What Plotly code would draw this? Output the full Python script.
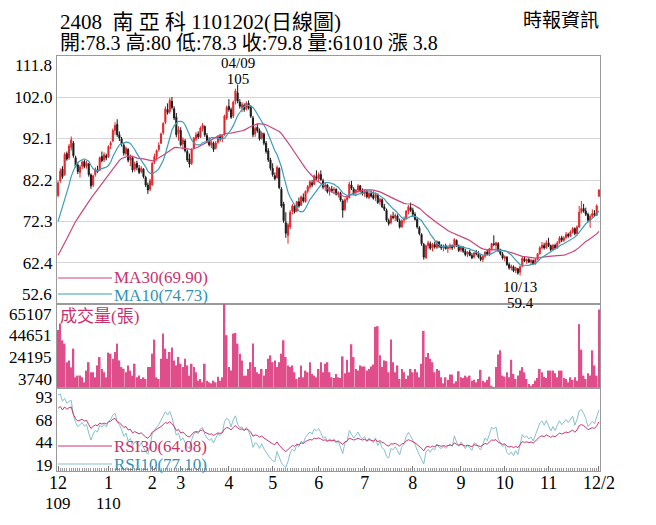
import pandas as pd
import plotly.graph_objects as go
from plotly.subplots import make_subplots

# ---- data (2408 南亞科, daily, 2020/12/01 - 2021/12/02) ----
month_pos = [0, 23, 43, 56, 78, 98, 119, 140, 162, 184, 204, 224, 247]
month_text = ["12", "1", "2", "3", "4", "5", "6", "7", "8", "9", "10", "11", "12/2"]
year_pos = [0, 23]
year_text = ["109", "110"]
price_ticks = [52.6, 62.4, 72.3, 82.2, 92.1, 102.0, 111.8]
vol_ticks = [3740, 24195, 44651, 65107]
rsi_ticks = [19, 44, 68, 93]

# closes before the first visible candle (only used to warm up MA / RSI)
pre_close = [56.8, 56.5, 56.0, 55.6, 56.3, 57.2, 58.0, 58.8, 58.3, 59.6,
             60.4, 59.8, 60.9, 61.6, 61.0, 62.2, 63.0, 63.8, 63.4, 64.8,
             66.2, 67.5, 68.8, 69.5, 70.2, 70.0, 71.5, 72.8, 74.5, 77.0]

opens = [
    78.5, 82.0, 84.8, 83.5, 88.5, 87.5, 90.0, 91.0, 87.5, 85.8, 84.0, 85.5, 86.6, 85.5, 86.0, 83.4, 81.0, 83.5, 84.6, 84.5, 87.8, 87.0, 88.0,
    87.8, 90.5, 91.5, 94.0, 95.5, 93.0, 92.0, 90.5, 88.5, 89.5, 87.0, 87.5, 84.8, 86.2, 85.0, 84.2, 84.8, 82.8, 81.0, 80.0,
    81.0, 86.5, 87.8, 89.5, 91.0, 93.5, 96.0, 99.0, 98.5, 101.0, 99.2, 97.2, 93.5,
    94.0, 90.8, 91.5, 89.0, 87.2, 86.2, 89.8, 92.0, 93.2, 92.5, 94.5, 95.0, 92.8, 91.5, 90.5, 91.0, 89.8, 91.2, 92.5, 92.0, 93.0, 97.0,
    99.8, 99.0, 97.5, 101.0, 103.0, 100.8, 99.5, 100.0, 99.2, 100.5, 99.5, 97.0, 93.2, 94.8, 94.0, 92.2, 93.2, 91.0, 89.2, 87.0,
    85.0, 83.2, 82.8, 85.0, 80.0, 76.5, 72.0, 69.0, 71.0, 74.8, 76.0, 74.8, 77.0, 76.2, 78.0, 77.0, 79.5, 80.5, 81.5, 81.2, 83.0,
    82.5, 83.5, 82.0, 80.5, 81.0, 79.5, 80.0, 79.8, 80.0, 78.8, 79.0, 77.2, 75.2, 77.5, 78.0, 81.0, 80.0, 79.2, 79.8, 80.8, 79.5,
    79.0, 79.5, 78.0, 79.0, 78.5, 78.0, 78.6, 77.0, 77.5, 75.8, 75.0, 72.5, 72.0, 73.5, 73.2, 73.6, 72.4, 71.0, 72.6, 73.0, 74.8, 75.6,
    75.0, 74.0, 72.8, 70.8, 69.2, 66.8, 63.6, 66.5, 67.0, 66.0, 66.8, 66.0, 67.4, 66.5, 66.0, 66.5, 65.8, 66.0, 66.5, 66.2, 67.8, 66.4,
    65.5, 66.0, 65.2, 64.5, 65.0, 64.2, 63.8, 64.8, 64.5, 63.8, 63.2, 64.0, 65.0, 64.4, 65.8, 67.0, 66.6, 67.0, 65.2, 64.5,
    63.5, 63.8, 62.0, 61.2, 61.5, 60.6, 61.0, 60.2, 61.6, 63.4, 62.8, 63.2, 62.6, 63.0, 62.2, 63.2, 64.6, 66.0, 66.6, 66.0,
    67.2, 66.5, 65.6, 66.6, 66.0, 67.2, 68.4, 67.8, 68.4, 69.2, 68.8, 69.8, 70.6, 69.4, 71.0, 74.5, 75.4, 74.8, 74.0, 72.6, 73.5, 74.2,
    73.8, 78.3]
highs = [
    82.0, 85.0, 85.5, 88.8, 89.0, 90.8, 92.6, 91.5, 88.0, 86.5, 85.8, 86.9, 87.0, 86.8, 86.3, 83.8, 83.5, 85.2, 85.6, 87.8, 89.0, 88.8, 88.5,
    90.5, 91.5, 94.5, 96.0, 96.7, 93.8, 92.5, 91.0, 90.2, 89.8, 88.3, 88.0, 86.6, 86.8, 85.8, 85.5, 85.0, 83.2, 81.6, 82.5,
    86.5, 88.5, 89.5, 91.2, 93.5, 96.0, 99.8, 100.5, 101.8, 102.0, 99.8, 98.2, 95.0,
    94.8, 92.4, 92.0, 89.5, 88.5, 89.8, 92.5, 93.6, 93.8, 95.0, 95.8, 95.2, 93.4, 92.4, 91.6, 91.4, 91.5, 92.9, 93.2, 93.0, 97.8, 100.0,
    101.5, 99.5, 101.2, 104.0, 105.0, 101.5, 100.8, 100.5, 101.0, 101.2, 100.0, 97.5, 95.0, 95.6, 94.5, 93.8, 93.5, 91.5, 89.8, 87.5,
    86.2, 84.0, 85.7, 85.2, 80.5, 77.0, 74.5, 72.0, 75.0, 76.5, 76.3, 77.2, 78.0, 78.5, 79.0, 79.7, 81.0, 82.1, 82.2, 83.5, 84.5,
    84.0, 84.5, 82.5, 81.5, 81.2, 80.6, 80.8, 80.5, 80.2, 79.5, 79.4, 77.6, 77.8, 78.2, 81.8, 82.0, 80.5, 80.0, 81.2, 81.0, 80.2,
    80.0, 79.8, 79.4, 79.7, 79.5, 79.2, 79.0, 78.0, 77.8, 76.5, 75.4, 73.0, 74.0, 74.6, 74.2, 74.0, 73.0, 72.8, 73.5, 75.0, 76.2, 76.8,
    75.6, 74.5, 73.2, 71.2, 69.5, 67.2, 66.8, 67.7, 67.5, 67.2, 67.5, 67.8, 67.6, 66.9, 66.8, 67.0, 66.4, 67.0, 66.8, 68.3, 68.0, 66.8,
    66.6, 66.4, 65.8, 65.2, 65.5, 64.8, 65.0, 65.5, 65.2, 64.4, 64.2, 65.2, 65.6, 66.0, 67.2, 69.0, 67.5, 67.4, 65.8, 65.0,
    64.2, 64.0, 62.5, 62.0, 61.8, 61.5, 61.2, 61.8, 63.8, 64.0, 63.5, 63.6, 63.4, 63.2, 63.6, 64.8, 66.4, 67.4, 67.2, 67.8,
    68.4, 66.8, 66.9, 67.0, 67.6, 68.8, 68.9, 68.8, 69.8, 69.6, 70.2, 71.0, 70.9, 71.4, 76.0, 77.2, 76.5, 75.6, 74.4, 74.0, 75.2, 75.0,
    76.4, 80.0]
lows = [
    78.1, 81.5, 82.5, 83.2, 86.8, 87.0, 89.2, 87.5, 85.2, 83.6, 82.8, 84.8, 85.0, 84.9, 83.0, 80.1, 80.5, 83.0, 83.9, 84.3, 86.4, 86.5, 86.9,
    87.5, 89.6, 91.2, 93.0, 92.5, 91.5, 90.2, 88.0, 88.0, 86.4, 85.5, 84.0, 84.2, 84.5, 83.6, 83.8, 82.6, 80.5, 78.9, 79.5,
    80.9, 86.0, 86.8, 89.0, 90.8, 93.0, 95.5, 97.8, 98.0, 99.0, 96.5, 92.4, 91.6,
    90.2, 89.5, 88.8, 86.5, 85.2, 85.8, 89.5, 91.5, 92.0, 92.2, 93.8, 92.5, 91.0, 90.2, 89.8, 88.9, 89.5, 90.8, 91.4, 91.2, 92.8, 96.5,
    98.5, 96.8, 97.0, 100.2, 100.5, 99.2, 98.4, 98.5, 98.8, 99.0, 97.0, 92.4, 92.5, 93.5, 91.6, 91.8, 90.5, 88.5, 86.5, 84.5,
    83.0, 82.1, 82.5, 80.0, 75.6, 72.0, 68.4, 67.0, 70.5, 74.0, 74.2, 74.5, 75.6, 76.0, 76.8, 76.8, 79.0, 80.0, 80.5, 81.0, 82.2,
    81.8, 82.0, 80.0, 79.6, 79.0, 78.5, 79.2, 78.8, 78.5, 78.0, 77.0, 73.2, 74.8, 76.8, 77.8, 79.8, 78.6, 78.3, 79.2, 79.2, 78.5,
    78.2, 77.8, 77.6, 78.0, 77.5, 77.2, 76.5, 76.2, 75.5, 74.8, 72.2, 71.3, 71.6, 72.8, 72.4, 72.2, 70.6, 70.8, 71.8, 72.8, 74.0, 74.6,
    73.6, 72.5, 70.6, 69.0, 66.5, 63.2, 63.4, 65.8, 65.5, 65.2, 65.8, 65.8, 66.0, 65.5, 65.2, 65.6, 64.8, 65.6, 65.5, 65.8, 66.2, 65.0,
    65.0, 64.8, 64.0, 63.8, 64.0, 63.3, 63.5, 64.2, 63.5, 62.8, 62.6, 63.6, 64.2, 64.0, 65.4, 66.4, 65.6, 65.0, 64.2, 63.2,
    62.8, 61.7, 60.8, 60.6, 60.2, 60.0, 59.6, 59.4, 61.4, 62.6, 62.2, 62.4, 62.0, 62.0, 62.0, 63.0, 64.4, 65.6, 65.6, 65.8,
    66.2, 65.2, 65.4, 65.6, 65.8, 67.0, 67.4, 67.4, 68.2, 68.4, 68.6, 69.4, 69.0, 69.2, 70.8, 74.2, 74.4, 73.6, 72.2, 70.8, 73.2, 73.4,
    73.6, 78.3]
closes = [
    81.5, 84.3, 83.0, 88.3, 87.2, 90.3, 91.8, 88.0, 85.6, 84.2, 85.3, 86.5, 85.4, 86.2, 83.5, 80.8, 83.2, 84.8, 84.2, 87.5, 86.8, 88.2, 87.5,
    90.2, 91.0, 94.0, 95.2, 93.0, 92.2, 90.8, 88.6, 89.8, 86.9, 87.8, 84.6, 86.0, 85.2, 84.0, 85.0, 83.0, 81.0, 79.8, 82.0,
    86.2, 87.8, 89.2, 90.5, 93.2, 95.7, 99.2, 98.3, 101.2, 99.5, 97.0, 93.0, 94.2,
    90.6, 91.8, 89.2, 87.0, 86.0, 89.5, 92.2, 93.0, 92.5, 94.6, 95.3, 93.0, 91.5, 90.6, 91.2, 89.5, 91.0, 92.5, 92.0, 92.8, 97.5, 99.5,
    99.0, 97.2, 100.8, 103.5, 101.0, 99.8, 100.2, 99.0, 100.5, 99.4, 97.4, 93.0, 94.5, 94.0, 92.0, 93.4, 91.0, 89.0, 87.0, 85.0,
    83.5, 82.5, 85.2, 80.4, 76.0, 72.5, 69.5, 71.5, 74.5, 76.0, 74.6, 77.0, 76.0, 78.2, 77.2, 79.5, 80.6, 81.8, 81.0, 83.2, 82.6,
    83.5, 82.3, 80.5, 81.0, 79.4, 80.2, 79.6, 80.0, 78.8, 79.2, 77.4, 75.0, 77.5, 78.0, 81.2, 80.2, 79.0, 79.8, 80.8, 79.6, 78.9,
    79.5, 78.2, 79.0, 78.3, 77.8, 78.8, 76.8, 77.6, 75.8, 75.2, 72.6, 71.8, 73.6, 73.2, 73.8, 72.5, 71.0, 72.5, 73.0, 74.8, 75.8, 75.0,
    74.0, 72.8, 71.0, 69.4, 67.0, 63.8, 66.5, 67.2, 65.9, 66.8, 66.2, 67.5, 66.4, 66.0, 66.5, 65.8, 66.2, 66.6, 66.0, 68.0, 66.5, 65.4,
    66.2, 65.2, 64.4, 65.0, 64.2, 63.6, 64.8, 64.6, 63.8, 63.2, 64.0, 65.0, 64.5, 65.8, 67.0, 66.8, 67.2, 65.3, 64.6, 63.6,
    63.9, 62.0, 61.2, 61.6, 60.5, 61.2, 60.0, 61.5, 63.5, 62.9, 63.2, 62.6, 63.0, 62.2, 63.2, 64.6, 66.0, 66.6, 66.0, 67.2,
    66.5, 65.6, 66.6, 66.0, 67.2, 68.4, 67.8, 68.4, 69.2, 68.8, 69.8, 70.6, 69.4, 71.0, 74.5, 75.4, 74.8, 74.0, 72.6, 73.5, 74.2, 73.8,
    76.0, 79.8]
volumes = [
    46160, 50870, 38620, 36170, 22590, 23910, 18820, 32490, 11560, 12790, 12790, 11560, 7890, 16460, 22590, 15240, 15240, 11560, 20240, 26360, 17690, 15240, 11560,
    29570, 28810, 25140, 30040, 36170, 23910, 19010, 17690, 15240, 20240, 16460, 12790, 21460, 11560, 12790, 10340, 11560, 10340, 19010, 19010,
    28810, 39090, 11560, 10340, 25140, 43520, 32490, 25140, 30040, 33240, 23910, 20240, 26360,
    21460, 19010, 25140, 20240, 12790, 21460, 19010, 15240, 9110, 10340, 7890, 21460, 9110, 7890, 7130, 9110, 7890, 12030, 9110, 11560, 65107, 42290,
    19010, 16460, 43520, 43990, 36170, 28810, 23910, 12790, 12790, 17690, 22590, 36170, 19010, 15240, 14010, 17690, 12790, 17690, 25140, 27590,
    22590, 23910, 19010, 22590, 28810, 38620, 26360, 20240, 19010, 20240, 15240, 10340, 11560, 20240, 11560, 16460, 15240, 22590, 14010, 12790, 11560,
    17690, 22590, 15240, 21460, 22590, 15240, 11560, 11090, 14010, 11560, 11090, 26830, 14580, 24380, 15240, 35690, 26360, 17690, 16460, 20240, 19480,
    19480, 16460, 17690, 19480, 20900, 48420, 48890, 27590, 19010, 23910, 23350, 15240, 39090, 22590, 15240, 20240, 10340, 17690, 15240, 10340, 12790, 17690,
    15240, 17690, 15240, 11560, 21460, 45500, 26360, 29280, 25140, 22590, 15240, 17690, 16460, 11560, 7130, 11560, 9680, 13540, 13540, 7130, 8640, 15990,
    11560, 11090, 12790, 11560, 12790, 9110, 9680, 7890, 10340, 17030, 9110, 7890, 9680, 12030, 5440, 3740, 19010, 28250, 31270, 12790,
    12030, 15240, 11560, 24380, 14010, 10340, 12790, 16460, 19010, 15240, 10340, 6660, 5440, 6660, 9110, 11090, 17690, 15240, 12030, 11090,
    16460, 16460, 16460, 14580, 11560, 16460, 16460, 11090, 10340, 7890, 11560, 9680, 11560, 9110, 50400, 31740, 12790, 10340, 14580, 12790, 31270, 20240,
    12790, 61010]

n = len(closes)
idx = list(range(n))


def rsi(s, period):
    d = s.diff()
    up = d.clip(lower=0).ewm(alpha=1 / period, adjust=False).mean()
    dn = (-d.clip(upper=0)).ewm(alpha=1 / period, adjust=False).mean()
    return 100 * up / (up + dn)


all_close = pd.Series(pre_close + closes)
k = len(pre_close)
ma10 = all_close.rolling(10).mean().iloc[k:].to_numpy()
ma30 = all_close.rolling(30).mean().iloc[k:].to_numpy()
rsi10 = rsi(all_close, 10).iloc[k:].to_numpy()
rsi30 = rsi(all_close, 30).iloc[k:].to_numpy()

# ---- styling ----
SERIF = "Liberation Serif, Noto Sans CJK TC, serif"
RED, BLK = "#e3262b", "#1a1a1a"
MA30_C, MA10_C = "#c9457a", "#3f9db6"
RSI30_C, RSI10_C = "#cc3670", "#86c0cf"
VOL_C = "#e04d8b"
AX = "#9a9a9a"

# the page puts the figure 8px in from the window corner
OFF = 8
FW, FH = 656 - OFF, 525 - OFF
# plot area, in window pixels
L, R, T, B = 57, 600, 56, 471


def px(x):
    return (x - L) / (R - L)


def py(y):
    return (B - y) / (B - T)


fig = make_subplots(rows=3, cols=1, shared_xaxes=True, vertical_spacing=0,
                    row_heights=[248, 84, 83])

fig.add_trace(go.Candlestick(x=idx, open=opens, high=highs, low=lows, close=closes,
                             increasing=dict(line=dict(color=RED, width=1), fillcolor=RED),
                             decreasing=dict(line=dict(color=BLK, width=1), fillcolor=BLK),
                             whiskerwidth=0, hoverinfo="skip"), row=1, col=1)
fig.add_trace(go.Scatter(x=idx, y=ma30, mode="lines", line=dict(color=MA30_C, width=1.2)), row=1, col=1)
fig.add_trace(go.Scatter(x=idx, y=ma10, mode="lines", line=dict(color=MA10_C, width=1.2)), row=1, col=1)

fig.add_trace(go.Bar(x=idx, y=volumes, base=0, marker=dict(color=VOL_C, line=dict(width=0))), row=2, col=1)

fig.add_trace(go.Scatter(x=idx, y=rsi10, mode="lines", line=dict(color=RSI10_C, width=1)), row=3, col=1)
fig.add_trace(go.Scatter(x=idx, y=rsi30, mode="lines", line=dict(color=RSI30_C, width=1)), row=3, col=1)

fig.update_layout(width=FW, height=FH,
                  margin=dict(l=L - OFF, r=FW - (R - OFF), t=T - OFF, b=FH - (B - OFF)),
                  paper_bgcolor="white", plot_bgcolor="white", showlegend=False,
                  bargap=0.25, font=dict(family=SERIF, size=17, color="black"))

fig.update_xaxes(range=[-0.5, n - 0.5], showgrid=False, zeroline=False, showline=True,
                 mirror=True, linecolor=AX, rangeslider_visible=False, automargin=False)
fig.update_xaxes(tickmode="array", tickvals=month_pos, ticktext=month_text,
                 ticks="inside", ticklen=5, tickcolor="#777", ticklabelstandoff=-5,
                 minor=dict(tickmode="linear", tick0=0, dtick=1, ticks="inside", ticklen=3, tickcolor="#999"),
                 tickfont=dict(size=18), row=3, col=1)

fig.update_yaxes(showline=True, mirror=True, linecolor=AX, zeroline=False, ticks="",
                 tickfont=dict(size=17), automargin=False)
fig.update_yaxes(range=[price_ticks[0], price_ticks[-1]], tickvals=price_ticks[1:-1],
                 ticktext=[f"{v:.1f}" for v in price_ticks[1:-1]],
                 showgrid=True, gridcolor="#d6d6d6", row=1, col=1)
fig.update_yaxes(range=[vol_ticks[0], vol_ticks[-1]], showticklabels=False, showgrid=False, row=2, col=1)
fig.update_yaxes(range=[12.5, 102.8], tickvals=rsi_ticks, ticktext=[str(v) for v in rsi_ticks],
                 showgrid=False, row=3, col=1)

ann = []


def text(x, y, s, size=17, color="black", xanchor="left", yanchor="middle"):
    ann.append(dict(x=px(x), y=py(y), xref="paper", yref="paper", text=s, showarrow=False,
                    xanchor=xanchor, yanchor=yanchor, align="left", font=dict(size=size, color=color)))


# header: two lines in one block; a small base size keeps the line pitch tight
text(58, 8.5,
     '<span style="font-size:21px">2408\u00a0\u00a0南 亞 科 1101202(日線圖)</span><br>'
     '<span style="font-size:20px">開:78.3 高:80 低:78.3 收:79.8 量:61010 漲 3.8</span>',
     size=16, yanchor="top")
text(601, 8.5, "時報資訊", size=19, xanchor="right", yanchor="top")

# edge price labels drawn inside the panel, as on the original
text(54, 66, f"{price_ticks[-1]:.1f}", xanchor="right")
text(54, 294, f"{price_ticks[0]:.1f}", xanchor="right")
# volume labels spread evenly down the panel, as on the original
for v, y in zip(vol_ticks, [379, 357, 335, 314]):
    text(54, y, str(v), xanchor="right")

# year line under the month labels
for p, s in zip(year_pos, year_text):
    ann.append(dict(x=p, y=py(503), xref="x", yref="paper", text=s, showarrow=False,
                    xanchor="center", yanchor="middle", font=dict(size=17)))

# high / low marks (base size 12 gives a tight line pitch)
ann.append(dict(x=82, y=max(highs), xref="x", yref="y", showarrow=False,
                text='<span style="font-size:15px">04/09</span><br><span style="font-size:15px">105</span>',
                yanchor="bottom", yshift=-5, font=dict(size=12)))
ann.append(dict(x=211, y=min(lows), xref="x", yref="y", showarrow=False,
                text='<span style="font-size:15px">10/13</span><br><span style="font-size:15px">59.4</span>',
                yanchor="top", yshift=-1, font=dict(size=12)))

# indicator captions
text(112, 277, "MA30(69.90)", color="#c8336e")
text(112, 295, "MA10(74.73)", color="#2f94b3")
text(58, 316, "成交量(張)", color="#c8336e")
text(112, 446, "RSI30(64.08)", color="#c8336e")
text(112, 464, "RSI10(77.10)", color="#2f94b3")

shapes = []
for y, c in [(278, MA30_C), (294, MA10_C), (446, RSI30_C), (464, RSI10_C)]:
    shapes.append(dict(type="line", xref="paper", yref="paper", x0=px(58), x1=px(112),
                       y0=py(y), y1=py(y), line=dict(color=c, width=1)))

fig.update_layout(annotations=ann, shapes=shapes)
fig.write_html("out.html")
